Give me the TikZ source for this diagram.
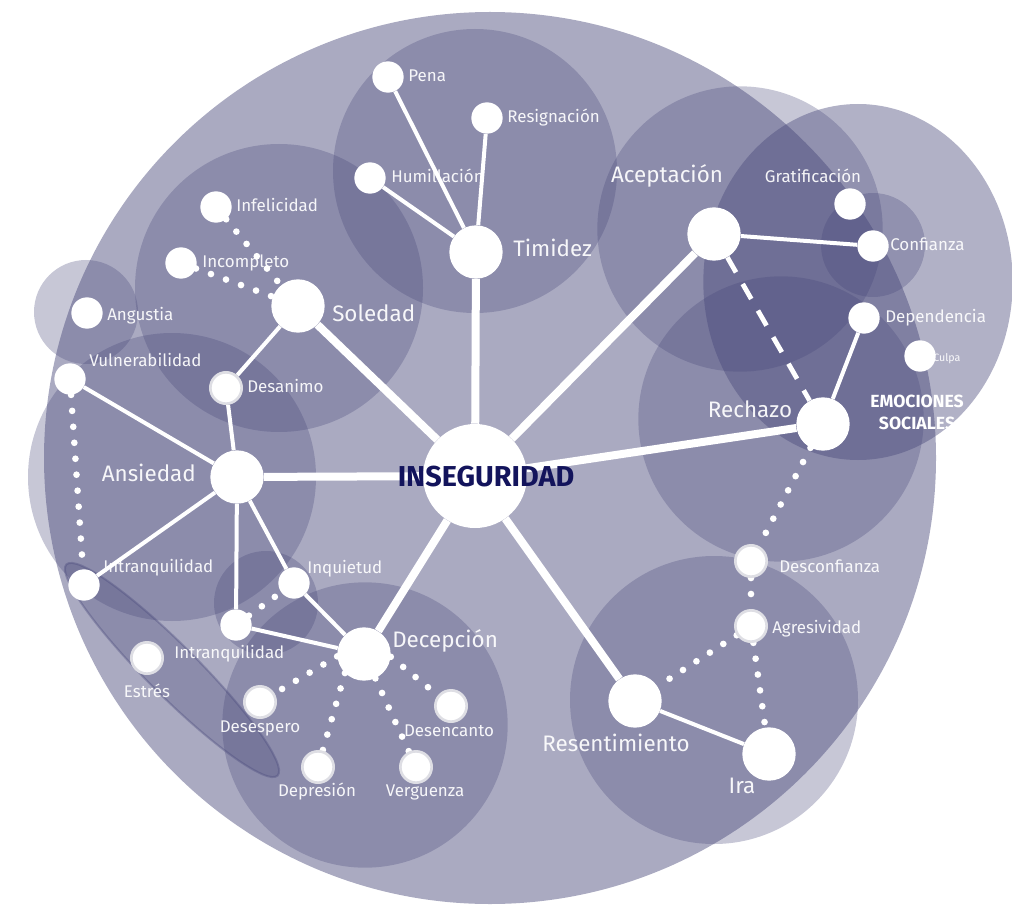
\documentclass[tikz,border=0pt]{standalone}
\usepackage{fontspec}
\setmainfont{Fira Sans}
\definecolor{blob}{RGB}{70,70,120}
\definecolor{navy}{RGB}{19,20,92}
\definecolor{ringc}{RGB}{222,222,228}
\pgfdeclarelayer{bg}
\pgfdeclarelayer{edges}
\pgfsetlayers{bg,edges,main}
\begin{document}
\begin{tikzpicture}[x=0.75pt,y=-0.75pt,
  zone/.style={fill=blob,fill opacity=0.3},
  core/.style={circle,fill=white,inner sep=0pt,minimum size=78pt},
  hub/.style={circle,fill=white,inner sep=0pt,minimum size=40pt},
  nd/.style={circle,fill=white,inner sep=0pt,minimum size=23.5pt},
  rnd/.style={nd,draw=ringc,line width=2pt},
  lbl/.style={text=white,text opacity=0.93,inner sep=0pt,font=\fontsize{12.7}{14}\selectfont,text height=0.7em,text depth=0pt},
  blbl/.style={lbl,font=\fontsize{16.8}{18}\selectfont},
  mainln/.style={draw=white,line width=6pt},
  subln/.style={draw=white,line width=3pt},
  dotln/.style={draw=white,line width=5pt,line cap=round,dash pattern=on 0pt off 12pt},
  dashln/.style={draw=white,line width=3.6pt,dash pattern=on 13pt off 10pt}]
\useasboundingbox (0,0) rectangle (1012,905);

% ---------- background zones ----------
\begin{pgfonlayer}{bg}
\fill[blob,fill opacity=0.46] (490,458) circle[radius=334.5pt];
\fill[zone] (475,171) circle[radius=106.5pt];
\fill[zone] (279,288) circle[radius=108pt];
\fill[zone] (86,312) circle[radius=39pt];
\fill[zone] (172,477) circle[radius=108pt];
\fill[zone] (266,603) circle[radius=39pt];
\fill[zone] (365,725) circle[radius=107pt];
\path[zone,draw=blob,draw opacity=0.35,line width=1.5pt,rotate around={-45:(172,670)}] (172,670) ellipse[x radius=112pt,y radius=19pt];
\fill[zone] (714,700) circle[radius=108pt];
\fill[zone] (781,419) circle[radius=107pt];
\fill[zone] (740,229) circle[radius=107pt];
\fill[blob,fill opacity=0.42] (858,282) ellipse[x radius=116pt,y radius=133.5pt];
\fill[zone] (873,245) circle[radius=39pt];
\end{pgfonlayer}

% ---------- nodes ----------
\node[core] (ins) at (475,476) {};
\node[hub] (tim) at (476,252) {};
\node[hub] (sol) at (298,306) {};
\node[hub] (ans) at (237,477) {};
\node[hub] (dec) at (364,654) {};
\node[hub] (ace) at (714,234) {};
\node[hub] (rec) at (823,424) {};
\node[hub] (res) at (635,701) {};
\node[hub] (ira) at (769,754) {};

\node[nd] (pena) at (388,77) {};
\node[nd] (resig) at (487,118) {};
\node[nd] (humi) at (370,178) {};
\node[nd] (infe) at (216,207) {};
\node[nd] (incom) at (181,263) {};
\node[nd] (angu) at (87,313) {};
\node[nd] (vuln) at (70,379) {};
\node[nd] (intra) at (84,585) {};
\node[nd] (inqu) at (294,583) {};
\node[nd] (intrb) at (236,625) {};
\node[nd] (grat) at (850,204) {};
\node[nd] (conf) at (873,246) {};
\node[nd] (depe) at (864,318) {};
\node[nd] (culpa) at (920,356) {};

\node[rnd] (desa) at (226,388) {};
\node[rnd] (estr) at (147,658) {};
\node[rnd] (desesp) at (260,702) {};
\node[rnd] (depr) at (318,767) {};
\node[rnd] (verg) at (416,767) {};
\node[rnd] (desenc) at (451,706) {};
\node[rnd] (desconf) at (751,561) {};
\node[rnd] (agre) at (751,626) {};

% ---------- connectors ----------
\begin{pgfonlayer}{edges}
\draw[mainln] (ins) -- (tim);
\draw[mainln] (ins) -- (sol);
\draw[mainln] (ins) -- (ans);
\draw[mainln] (ins) -- (dec);
\draw[mainln] (ins) -- (res);
\draw[mainln] (ins) -- (rec);
\draw[mainln] (ins) -- (ace);

\draw[subln] (tim) -- (pena);
\draw[subln] (tim) -- (resig);
\draw[subln] (tim) -- (humi);
\draw[subln] (sol) -- (desa);
\draw[subln] (desa) -- (ans);
\draw[subln] (ans) -- (vuln);
\draw[subln] (ans) -- (intra);
\draw[subln] (ans) -- (intrb);
\draw[subln] (ans) -- (inqu);
\draw[subln] (inqu) -- (dec);
\draw[subln] (intrb) -- (dec);
\draw[subln] (ace) -- (conf);
\draw[subln] (depe) -- (rec);
\draw[subln] (res) -- (ira);

\draw[dotln] (infe) -- (sol);
\draw[dotln] (incom) -- (sol);
\draw[dotln] (vuln) -- (intra);
\draw[dotln] (intrb) -- (inqu);
\draw[dotln] (dec.185) -- (desesp);
\draw[dotln] (dec.225) -- (depr);
\draw[dotln] (dec.295) -- (verg);
\draw[dotln] (dec.354) -- (desenc);
\draw[dotln] (rec) -- (desconf);
\draw[dotln] (desconf) -- (agre);
\draw[dotln] (agre) -- (res);
\draw[dotln] (agre) -- (ira);

\draw[dashln] (ace) -- (rec);
\end{pgfonlayer}

% ---------- labels ----------
\node[font=\bfseries\fontsize{21.6}{23}\selectfont,text=navy,inner sep=0pt] (tins) at (486,477) {INSEGURIDAD};

\node[lbl,anchor=west] (lpena) at (408,77) {Pena};
\node[lbl,anchor=west] (lresig) at (507,118) {Resignación};
\node[lbl,anchor=west] (lhumi) at (391,178) {Humillación};
\node[blbl,anchor=west] (ltim) at (513,252) {Timidez};
\node[lbl,anchor=west] (linfe) at (236,207) {Infelicidad};
\node[lbl,anchor=west] (lincom) at (202,263) {Incompleto};
\node[blbl,anchor=west] (lsol) at (332,317) {Soledad};
\node[lbl,anchor=west] (langu) at (107,316) {Angustia};
\node[lbl,anchor=west] (lvuln) at (89,362) {Vulnerabilidad};
\node[lbl,anchor=west] (ldesa) at (247,388) {Desanimo};
\node[blbl,anchor=east] (lans) at (196,477) {Ansiedad};
\node[lbl,anchor=west] (lintra) at (103,568) {Intranquilidad};
\node[lbl,anchor=west] (linqu) at (307,569) {Inquietud};
\node[lbl,anchor=west] (lintrb) at (174,654) {Intranquilidad};
\node[blbl,anchor=west] (ldec) at (392,643) {Decepción};
\node[lbl] (lestr) at (147,693) {Estrés};
\node[lbl] (ldesesp) at (260,728) {Desespero};
\node[lbl] (ldepr) at (317,792) {Depresión};
\node[lbl] (lverg) at (425,792) {Verguenza};
\node[lbl] (ldesenc) at (449,732) {Desencanto};
\node[blbl] (lace) at (667,178) {Aceptación};
\node[lbl] (lgrat) at (813,178) {Gratificación};
\node[lbl,anchor=west] (lconf) at (890,246) {Confianza};
\node[lbl,anchor=west] (ldepe) at (885,318) {Dependencia};
\node[lbl,anchor=west,font=\fontsize{8}{9}\selectfont] (lculpa) at (933,357) {Culpa};
\node[blbl] (lrec) at (750,413) {Rechazo};
\node[text=white,inner sep=0pt,align=center,font=\bfseries\fontsize{13.2}{16.5}\selectfont] (lemo) at (917,412) {EMOCIONES\\SOCIALES};
\node[lbl,anchor=west] (ldesconf) at (779,568) {Desconfianza};
\node[lbl,anchor=west] (lagre) at (772,629) {Agresividad};
\node[blbl] (lres) at (616,747) {Resentimiento};
\node[blbl] (lira) at (742,789) {Ira};
\end{tikzpicture}
\end{document}
